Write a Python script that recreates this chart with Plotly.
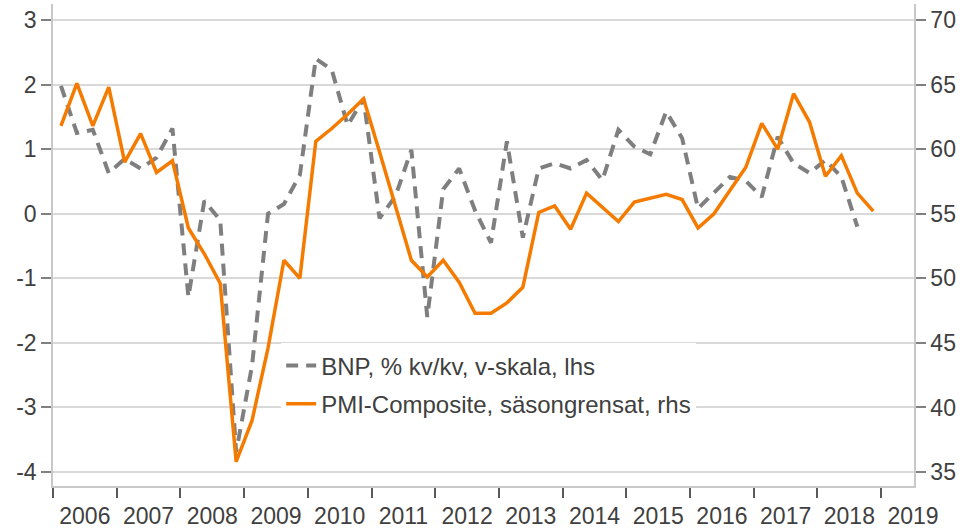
import plotly.graph_objects as go

# Quarterly observations, 2006Q1 .. 2018Q4
years = list(range(2006, 2019))
quarters = [1, 2, 3, 4]

bnp_qoq = [
    1.98, 1.25, 1.30, 0.63,    # 2006
    0.85, 0.70, 0.87, 1.32,    # 2007
    -1.29, 0.20, -0.10, -3.69, # 2008
    -2.35, 0.00, 0.15, 0.60,   # 2009
    2.40, 2.23, 1.37, 1.78,    # 2010
    -0.07, 0.27, 0.99, -1.60,  # 2011
    0.38, 0.70, 0.05, -0.45,   # 2012
    1.12, -0.37, 0.70, 0.78,   # 2013
    0.70, 0.83, 0.52, 1.30,    # 2014
    1.04, 0.92, 1.58, 1.17,    # 2015
    0.08, 0.33, 0.57, 0.51,    # 2016
    0.26, 1.19, 0.78, 0.63,    # 2017
    0.83, 0.57, -0.20,         # 2018
]

pmi_composite = [
    61.8, 65.1, 61.8, 64.8,    # 2006
    59.0, 61.2, 58.2, 59.1,    # 2007
    53.9, 51.9, 49.6, 35.8,    # 2008
    39.0, 44.6, 51.4, 50.0,    # 2009
    60.6, 61.6, 62.7, 63.9,    # 2010
    59.8, 55.6, 51.4, 50.1,    # 2011
    51.4, 49.7, 47.3, 47.3,    # 2012
    48.1, 49.3, 55.1, 55.6,    # 2013
    53.8, 56.6, 55.5, 54.4,    # 2014
    55.9, 56.2, 56.5, 56.1,    # 2015
    53.9, 55.0, 56.8, 58.6,    # 2016
    62.0, 60.0, 64.3, 62.1,    # 2017
    57.9, 59.5, 56.6, 55.2,    # 2018
]

tick_years = list(range(2006, 2020))
tick_labels = [str(y) for y in tick_years]

left_ticks = [-4, -3, -2, -1, 0, 1, 2, 3]
right_ticks = [35, 40, 45, 50, 55, 60, 65, 70]

name_bnp = "BNP, % kv/kv, v-skala, lhs"
name_pmi = "PMI-Composite, säsongrensat, rhs"

# decimal-year position of each quarter (mid-quarter)
x_all = [y + (q - 0.5) / 4 for y in years for q in quarters]

FONT = "Liberation Sans, Arial, sans-serif"
TXT = "#404040"
GRID = "#d9d9d9"
AXLINE = "#c8c8c8"

fig = go.Figure()
fig.add_trace(go.Scatter(
    x=x_all[:len(bnp_qoq)], y=bnp_qoq, name=name_bnp, mode="lines",
    legendgroup="a",
    line=dict(color="#7f7f7f", width=4, dash="12px,8px"), yaxis="y",
))
fig.add_trace(go.Scatter(
    x=x_all[:len(pmi_composite)], y=pmi_composite, name=name_pmi, mode="lines",
    legendgroup="b",
    line=dict(color="#f57b00", width=3.5), yaxis="y2",
))

fig.update_layout(
    width=965, height=531,
    margin=dict(l=53, r=51, t=4, b=45),
    paper_bgcolor="white", plot_bgcolor="white",
    font=dict(family=FONT, size=23, color=TXT),
    showlegend=True,
    legend=dict(
        x=0.265, y=0.296, xanchor="left", yanchor="top",
        bgcolor="white", borderwidth=0,
        font=dict(family=FONT, size=24, color=TXT),
        traceorder="grouped", tracegroupgap=4, itemwidth=30,
    ),
    xaxis=dict(
        range=[2006, 2019.515], automargin=False,
        tickmode="array",
        tickvals=[y + 0.5 for y in tick_years],
        ticktext=tick_labels,
        ticks="outside", ticklen=9, tickcolor="rgba(0,0,0,0)",
        tickfont=dict(family=FONT, size=23, color=TXT),
        showgrid=False, zeroline=False,
        showline=True, linecolor=AXLINE, linewidth=1.5,
        minor=dict(tickmode="array", tickvals=tick_years, ticks="outside",
                   ticklen=10, tickwidth=1.5, tickcolor="#595959", showgrid=False),
    ),
    yaxis=dict(
        range=[-4.217, 3.248], automargin=False,
        tickmode="array", tickvals=left_ticks,
        ticktext=[str(v) for v in left_ticks],
        ticks="outside", ticklen=10, tickwidth=1.5, tickcolor="#808080",
        tickfont=dict(family=FONT, size=23, color=TXT),
        showgrid=True, gridcolor=GRID, gridwidth=1.5,
        zeroline=False,
        showline=True, linecolor=AXLINE, linewidth=1.5,
    ),
    yaxis2=dict(
        range=[33.92, 71.24], overlaying="y", side="right", automargin=False,
        tickmode="array", tickvals=right_ticks,
        ticktext=[str(v) for v in right_ticks],
        ticks="outside", ticklen=10, tickwidth=1.5, tickcolor="#808080",
        tickfont=dict(family=FONT, size=23, color=TXT),
        showgrid=False, zeroline=False,
        showline=True, linecolor=AXLINE, linewidth=1.5,
    ),
)

fig.write_html(
    "out.html",
    config={"displayModeBar": False},
    post_script="document.body.style.margin='0';document.body.style.overflow='hidden';",
)
